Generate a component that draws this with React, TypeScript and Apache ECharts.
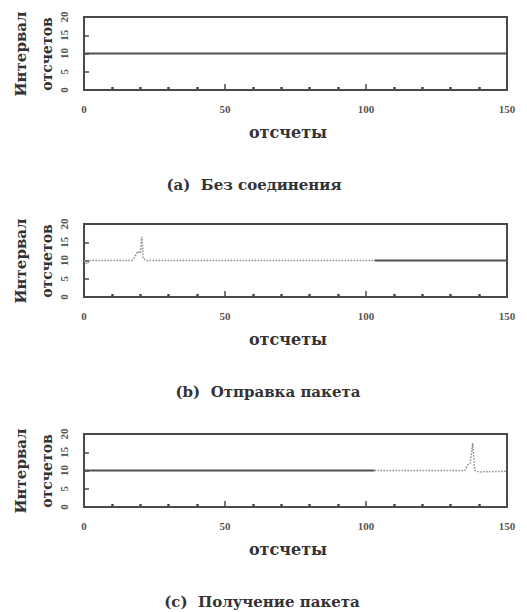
import React, { useEffect, useRef } from "react";
import * as echarts from "echarts";

// ---- data ----
const panelTops = [17, 224, 434];
const captions = ["(a)  Без соединения", "(b)  Отправка пакета", "(c)  Получение пакета"];
const captionCenters = [254, 268, 262];
const yTitleLine1 = "Интервал";
const yTitleLine2 = "отсчетов";
const xTitle = "отсчеты";

// panel (a)
const aX = [0, 150];
const aY = [10, 10];
// panel (b)
const bLightX = [0, 1, 2, 17, 18, 19, 20, 20.5, 21, 22, 103];
const bLightY = [10, 9, 10, 10, 11, 12.5, 12, 16.5, 10.5, 10, 10];
const bDarkX = [103, 150];
const bDarkY = [10, 10];
// panel (c)
const cDarkX = [0, 103];
const cDarkY = [10, 10];
const cLightX = [103, 135, 136, 137, 137.8, 138.6, 140, 150];
const cLightY = [10, 10, 11.5, 12, 17.5, 10, 9.6, 9.8];

const zip = (xs: number[], ys: number[]) => xs.map((x, i) => [x, ys[i]]);

const TEXT = "#333333";
const FRAME = "#4a4a4a";
const DARK = "#505050";
const LIGHT = "#8a8a8a";
const SERIF = "'DejaVu Serif', serif";
const SERIF2 = "'Liberation Serif', serif";

export default function App() {
  const ref = useRef<HTMLDivElement>(null);
  useEffect(() => {
    if (!ref.current) return;
    const chart = echarts.init(ref.current, null, { renderer: "svg" });
    const H = 73;
    const grids = panelTops.map((t) => ({
      left: 84,
      top: t,
      width: 423,
      height: H,
      show: true,
      borderColor: FRAME,
      borderWidth: 2,
      backgroundColor: "transparent",
    }));
    const xAxes = panelTops.map((_, i) => ({
      type: "value",
      gridIndex: i,
      min: 0,
      max: 150,
      interval: 50,
      axisLine: { show: true, lineStyle: { color: FRAME, width: 2 } },
      axisTick: { show: true, inside: true, length: 6, lineStyle: { color: FRAME, width: 1.5 } },
      minorTick: { show: true, splitNumber: 5, length: 3, lineStyle: { color: FRAME, width: 2.5 } },
      splitLine: { show: false },
      axisLabel: { color: "#555", fontFamily: SERIF2, fontWeight: "bold", fontSize: 11, margin: 13 },
    }));
    const yAxes = panelTops.map((_, i) => ({
      type: "value",
      gridIndex: i,
      min: 0,
      max: 20,
      interval: 5,
      axisLine: { show: true, lineStyle: { color: FRAME, width: 2 } },
      axisTick: { show: true, inside: true, length: 5, lineStyle: { color: FRAME, width: 1.5 } },
      splitLine: { show: false },
      axisLabel: { color: "#555", fontFamily: SERIF2, fontWeight: "bold", fontSize: 11, rotate: 90, margin: 15 },
    }));
    const line = (data: number[][], idx: number, color: string, width: number, type: string) => ({
      type: "line",
      xAxisIndex: idx,
      yAxisIndex: idx,
      data,
      showSymbol: false,
      symbol: "none",
      lineStyle: { color, width, type },
      silent: true,
    });
    const series = [
      line(zip(aX, aY), 0, DARK, 2, "solid"),
      line(zip(bLightX, bLightY), 1, LIGHT, 1.5, "dotted"),
      line(zip(bDarkX, bDarkY), 1, DARK, 2.2, "solid"),
      line(zip(cDarkX, cDarkY), 2, DARK, 2.2, "solid"),
      line(zip(cLightX, cLightY), 2, LIGHT, 1.5, "dotted"),
    ];
    const graphic: any[] = [];
    panelTops.forEach((t, i) => {
      graphic.push({
        type: "text",
        x: 21,
        y: t + 37,
        rotation: Math.PI / 2,
        style: { text: yTitleLine1, fill: TEXT, font: `bold 15px ${SERIF}`, align: "center", verticalAlign: "middle" },
      });
      graphic.push({
        type: "text",
        x: 47,
        y: t + 37,
        rotation: Math.PI / 2,
        style: { text: yTitleLine2, fill: TEXT, font: `bold 14px ${SERIF}`, align: "center", verticalAlign: "middle" },
      });
      graphic.push({
        type: "text",
        x: 288,
        y: t + 115,
        style: { text: xTitle, fill: TEXT, font: `bold 16px ${SERIF}`, align: "center", verticalAlign: "middle" },
      });
      graphic.push({
        type: "text",
        x: captionCenters[i],
        y: t + 168,
        style: { text: captions[i], fill: TEXT, font: `bold 15px ${SERIF}`, align: "center", verticalAlign: "middle" },
      });
    });
    chart.setOption({
      animation: false,
      backgroundColor: "#ffffff",
      grid: grids,
      xAxis: xAxes,
      yAxis: yAxes,
      series,
      graphic,
    });
    return () => chart.dispose();
  }, []);
  return <div ref={ref} style={{ position: "absolute", left: 0, top: 0, width: 527, height: 612 }} />;
}
